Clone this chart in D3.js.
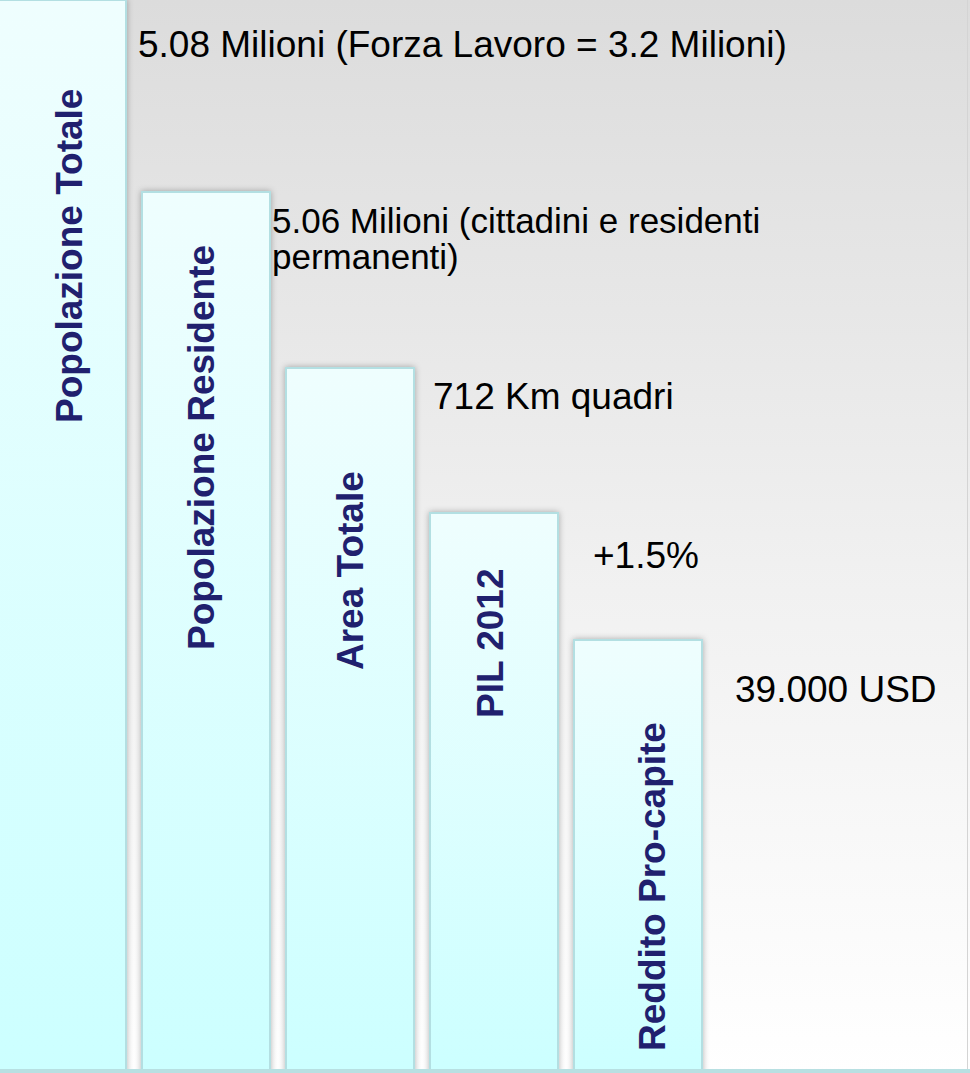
<!DOCTYPE html>
<html>
<head>
<meta charset="utf-8">
<script src="https://cdn.jsdelivr.net/npm/d3@7/dist/d3.min.js"></script>
<style>
  html, body { margin: 0; padding: 0; background: #fff; }
  svg { display: block; }
</style>
</head>
<body>
<div id="chart"></div>
<script>
// ---- data ----
const categories = ["Popolazione Totale", "Popolazione Residente", "Area Totale", "PIL 2012", "Reddito Pro-capite"];
const levels = [1070, 878, 702, 557, 430];   // relative bar heights
const annotations = [
  ["5.08 Milioni (Forza Lavoro = 3.2 Milioni)"],
  ["5.06 Milioni (cittadini e residenti", "permanenti)"],
  ["712 Km quadri"],
  ["+1.5%"],
  ["39.000 USD"]
];

// ---- layout (not data) ----
const W = 970, H = 1073, base = 1070;
const labelDx = [84, 72, 77, 73, 91];           // baseline offset of vertical label inside bar
const labelBottom = [423, 650, 670, 718, 1051]; // start y of vertical label
const annDx = [12, 2, 19, 35, 33];              // annotation x offset from bar right edge
const annDy = [57, 41, 41, 55, 62];             // annotation baseline offset from bar top
const annSize = [37, 35, 37, 37, 37];

const svg = d3.select("#chart").append("svg").attr("width", W).attr("height", H);
const defs = svg.append("defs");

const bg = defs.append("linearGradient").attr("id", "bg").attr("x1", 0).attr("y1", 0).attr("x2", 0).attr("y2", 1);
bg.append("stop").attr("offset", "0%").attr("stop-color", "#dcdcdc");
bg.append("stop").attr("offset", "55%").attr("stop-color", "#f1f1f1");
bg.append("stop").attr("offset", "100%").attr("stop-color", "#ffffff");

const bf = defs.append("linearGradient").attr("id", "barfill").attr("x1", 0).attr("y1", 0).attr("x2", 0).attr("y2", 1);
bf.append("stop").attr("offset", "0%").attr("stop-color", "#effefe");
bf.append("stop").attr("offset", "100%").attr("stop-color", "#ccffff");

const sh = defs.append("filter").attr("id", "shadow").attr("x", "-20%").attr("y", "-5%").attr("width", "140%").attr("height", "110%");
sh.append("feDropShadow").attr("dx", 0).attr("dy", 0).attr("stdDeviation", 3)
  .attr("flood-color", "#000").attr("flood-opacity", 0.3);

svg.append("rect").attr("x", 0).attr("y", 0).attr("width", W).attr("height", H).attr("fill", "url(#bg)");
svg.append("line").attr("x1", W - 2.5).attr("x2", W - 2.5).attr("y1", 0).attr("y2", H)
  .attr("stroke", "#d4d4d4").attr("stroke-width", 1);

const x = d3.scaleBand().domain(categories).range([-2, 702]).paddingInner(1 / 9).paddingOuter(0);
const y = d3.scaleLinear().domain([0, 1070]).range([base, 0]);

const data = categories.map((c, i) => ({ c, v: levels[i], i }));

svg.append("g").selectAll("rect").data(data).join("rect")
  .attr("x", d => x(d.c))
  .attr("y", d => y(d.v))
  .attr("width", x.bandwidth())
  .attr("height", d => base + 4 - y(d.v))
  .attr("fill", "url(#barfill)")
  .attr("stroke", "#b3dfe2")
  .attr("stroke-width", 2)
  .attr("filter", "url(#shadow)");

// bottom strip
svg.append("rect").attr("x", 0).attr("y", base - 1).attr("width", W).attr("height", H - base + 1).attr("fill", "#b8e0e2");

// vertical labels
svg.append("g").selectAll("text").data(data).join("text")
  .attr("transform", d => `translate(${x(d.c) + labelDx[d.i]},${labelBottom[d.i]}) rotate(-90)`)
  .attr("text-anchor", "start")
  .attr("font-family", "'Liberation Sans', Arial, sans-serif")
  .attr("font-weight", "bold")
  .attr("font-size", 37)
  .attr("fill", "#20206e")
  .text(d => d.c);

// annotations
const ann = svg.append("g").selectAll("text").data(data).join("text")
  .attr("x", d => x(d.c) + x.bandwidth() + annDx[d.i])
  .attr("y", d => y(d.v) + annDy[d.i])
  .attr("font-family", "'Liberation Sans', Arial, sans-serif")
  .attr("font-size", d => annSize[d.i])
  .attr("fill", "#000");
ann.selectAll("tspan").data(d => annotations[d.i].map((t, k) => ({ t, k, d }))).join("tspan")
  .attr("x", e => x(e.d.c) + x.bandwidth() + annDx[e.d.i])
  .attr("dy", e => e.k === 0 ? 0 : 36)
  .text(e => e.t);
</script>
</body>
</html>
